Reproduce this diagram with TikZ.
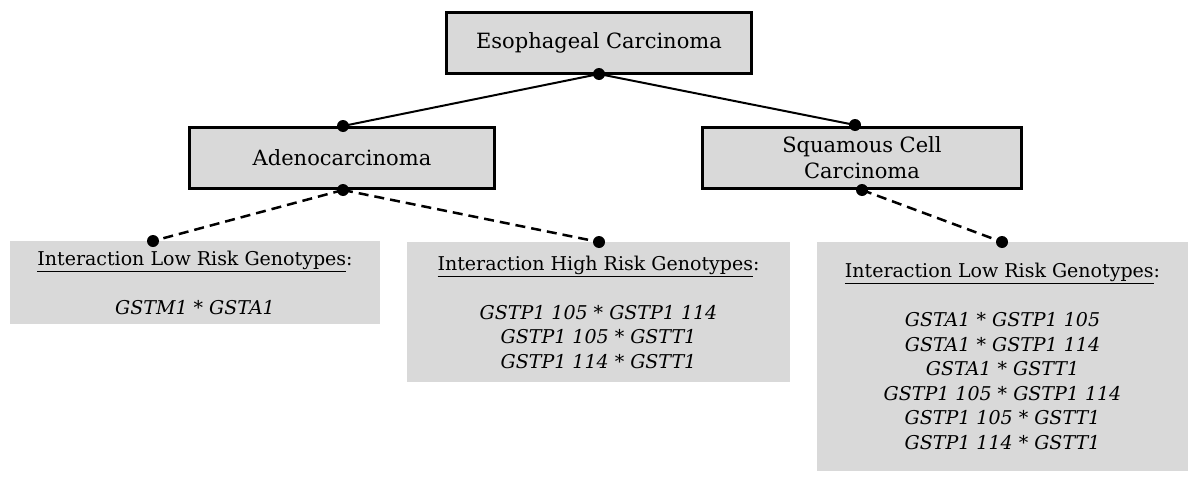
\documentclass[tikz,border=0pt]{standalone}
\usepackage{fontspec}
\setmainfont{DejaVu Serif}
\usetikzlibrary{calc}
\definecolor{boxgray}{HTML}{D9D9D9}
\begin{document}
\begin{tikzpicture}[x=1pt,y=-1pt,
  mainbox/.style={draw=black, line width=3pt, fill=boxgray, minimum width=305pt, minimum height=61pt, inner sep=0pt, outer sep=0pt, font=\fontsize{21}{26}\selectfont, align=center},
  infobox/.style={fill=boxgray, inner sep=0pt, align=center, font=\fontsize{19}{24.5}\selectfont},
  dot/.style={circle, fill=black, inner sep=0pt, minimum size=12pt},
  solidlink/.style={line width=2pt},
  dashlink/.style={line width=2.5pt, dash pattern=on 10pt off 6pt}]
\useasboundingbox (0,0) rectangle (1200,482);
\node[mainbox] (eso) at (599,42.5) {Esophageal Carcinoma};
\node[mainbox] (adeno) at (342,158) {Adenocarcinoma};
\node[mainbox, minimum width=319pt] (squam) at (862,157.5) {Squamous Cell\\Carcinoma};
\node[infobox, minimum width=370pt, minimum height=83pt] (lowA) at (195,282.5)
  {\underline{Interaction Low Risk Genotypes}:\\[24.5pt]
   \itshape GSTM1 * GSTA1};
\node[infobox, minimum width=383pt, minimum height=140pt] (highA) at (598.5,312)
  {\underline{Interaction High Risk Genotypes}:\\[24.5pt]
   \itshape GSTP1 105 * GSTP1 114\\
   \itshape GSTP1 105 * GSTT1\\
   \itshape GSTP1 114 * GSTT1};
\node[infobox, minimum width=371pt, minimum height=229pt] (lowS) at (1002.5,356.5)
  {\underline{Interaction Low Risk Genotypes}:\\[24.5pt]
   \itshape GSTA1 * GSTP1 105\\
   \itshape GSTA1 * GSTP1 114\\
   \itshape GSTA1 * GSTT1\\
   \itshape GSTP1 105 * GSTP1 114\\
   \itshape GSTP1 105 * GSTT1\\
   \itshape GSTP1 114 * GSTT1};
\coordinate (c1) at (599,74);
\coordinate (c2) at (343,126);
\coordinate (c3) at (855,125);
\coordinate (c4) at (343,190);
\coordinate (c5) at (862,190);
\coordinate (c6) at (153,241);
\coordinate (c7) at (599,242);
\coordinate (c8) at (1002,242);
\draw[solidlink] (c1) -- (c2);
\draw[solidlink] (c1) -- (c3);
\draw[dashlink] (c4) -- (c6);
\draw[dashlink] (c4) -- (c7);
\draw[dashlink] (c5) -- (c8);
\foreach \c in {c1,c2,c3,c4,c5,c6,c7,c8} \node[dot] (dot-\c) at (\c) {};
\end{tikzpicture}
\end{document}
